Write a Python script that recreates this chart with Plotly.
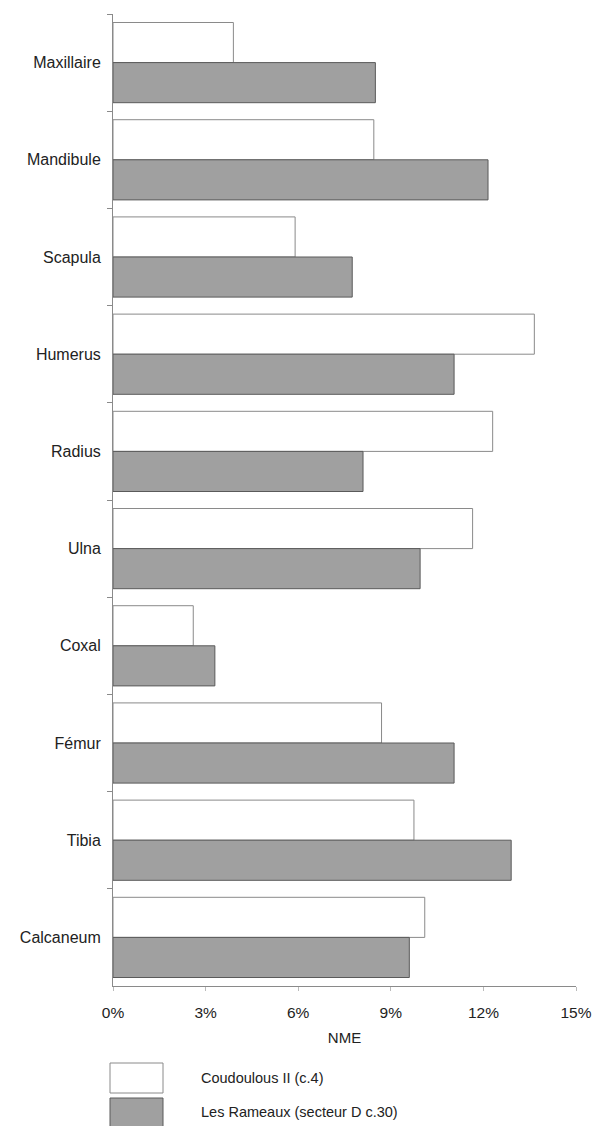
import plotly.graph_objects as go

categories = ["Maxillaire", "Mandibule", "Scapula", "Humerus", "Radius",
              "Ulna", "Coxal", "Fémur", "Tibia", "Calcaneum"]
coudoulous = [3.9, 8.45, 5.9, 13.65, 12.3, 11.65, 2.6, 8.7, 9.75, 10.1]
rameaux = [8.5, 12.15, 7.75, 11.05, 8.1, 9.95, 3.3, 11.05, 12.9, 9.6]
xticks = [0, 3, 6, 9, 12, 15]
xticklabels = ["0%", "3%", "6%", "9%", "12%", "15%"]
series_names = ["Coudoulous II (c.4)", "Les Rameaux (secteur D c.30)"]

FONT = "Liberation Sans, Arial, sans-serif"
TXT = "#222222"
ML, MR, MT, MB = 113, 20, 14, 140
W, H = 596, 1126

fig = go.Figure()
fig.add_trace(go.Bar(
    y=categories, x=coudoulous, orientation="h", name=series_names[0],
    marker=dict(color="#ffffff", line=dict(color="#8a8a8a", width=1)),
))
fig.add_trace(go.Bar(
    y=categories, x=rameaux, orientation="h", name=series_names[1],
    marker=dict(color="#a0a0a0", line=dict(color="#5a5a5a", width=1)),
))

fig.update_layout(
    width=W, height=H,
    margin=dict(l=ML, r=MR, t=MT, b=MB),
    barmode="group", bargap=0.175, bargroupgap=0,
    plot_bgcolor="white", paper_bgcolor="white",
    showlegend=False,
    font=dict(family=FONT, size=15, color=TXT),
)
fig.update_yaxes(
    autorange="reversed", type="category", automargin=False,
    showline=True, linecolor="#8a8a8a", linewidth=1,
    ticks="outside", ticklen=5, tickcolor="#8a8a8a", tickson="boundaries",
    showgrid=False, ticklabelstandoff=8,
    tickfont=dict(family=FONT, size=16, color=TXT),
)
fig.update_xaxes(
    range=[0, 15], tickvals=xticks, ticktext=xticklabels,
    automargin=False, ticklabeloverflow="allow",
    showline=True, linecolor="#8a8a8a", linewidth=1,
    ticks="outside", ticklen=4, tickcolor="#bbbbbb",
    showgrid=False, zeroline=False, ticklabelstandoff=8,
    tickfont=dict(family=FONT, size=15.5, color=TXT),
    title=dict(text="NME", font=dict(family=FONT, size=15, color=TXT), standoff=12),
)

# legend drawn as boxes + labels below the plot
fills = ["#ffffff", "#a0a0a0"]
lines = ["#8a8a8a", "#5a5a5a"]
pw = W - ML - MR
ph = H - MT - MB
def px_to_paper_x(px):
    return (px - ML) / pw
def px_to_paper_y(py):
    return (H - MB - py) / ph
box_px = [(1063, 1093), (1098, 1127)]
for i, name in enumerate(series_names):
    y0, y1 = px_to_paper_y(box_px[i][0]), px_to_paper_y(box_px[i][1])
    fig.add_shape(type="rect", xref="paper", yref="paper",
                  x0=px_to_paper_x(110), x1=px_to_paper_x(163), y0=y0, y1=y1,
                  fillcolor=fills[i], line=dict(color=lines[i], width=1))
    fig.add_annotation(xref="paper", yref="paper", x=px_to_paper_x(199),
                       y=px_to_paper_y(1078 + 34 * i),
                       text=name, showarrow=False, xanchor="left", yanchor="middle",
                       font=dict(family=FONT, size=14.5, color=TXT))

fig.write_html("out.html", config={"displayModeBar": False},
               post_script="document.body.style.margin='0';document.body.style.overflow='hidden';")
